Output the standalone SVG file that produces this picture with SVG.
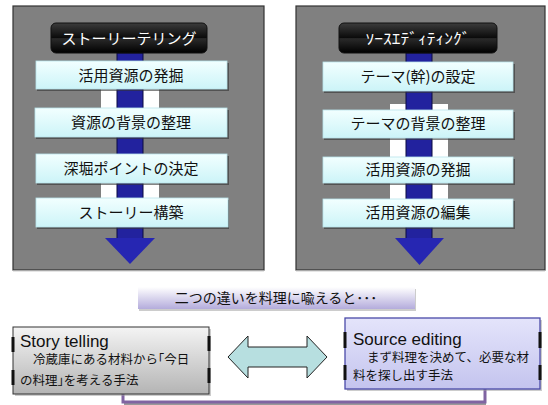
<svg xmlns="http://www.w3.org/2000/svg" width="548" height="405" viewBox="0 0 548 405">
<defs>
<linearGradient id="gTitle" x1="0" y1="0" x2="0" y2="1">
<stop offset="0" stop-color="#3c3c3c"/><stop offset="0.5" stop-color="#0a0a0a"/><stop offset="0.52" stop-color="#2a2a2a"/><stop offset="1" stop-color="#000"/>
</linearGradient>
<linearGradient id="gStep" x1="0" y1="0" x2="0" y2="1">
<stop offset="0" stop-color="#f2ffff"/><stop offset="1" stop-color="#ccf4f8"/>
</linearGradient>
<linearGradient id="gBanner" x1="0" y1="0" x2="0" y2="1">
<stop offset="0" stop-color="#ffffff"/><stop offset="1" stop-color="#b4acdc"/>
</linearGradient>
<linearGradient id="gGray" x1="0" y1="0" x2="0" y2="1">
<stop offset="0" stop-color="#f4f4f4"/><stop offset="1" stop-color="#b4b4b4"/>
</linearGradient>
<linearGradient id="gLav" x1="0" y1="0" x2="0" y2="1">
<stop offset="0" stop-color="#e4e4fb"/><stop offset="1" stop-color="#c4c4ee"/>
</linearGradient>
<style>
.panel{fill:#808080;stroke:#333;stroke-width:1.2}
.title{fill:url(#gTitle);stroke:#111;stroke-width:1}
.ttxt{font-family:"Noto Sans CJK JP",sans-serif;font-size:15px;fill:#fff;text-anchor:middle}
.step{fill:url(#gStep);stroke:#b8e4ea;stroke-width:0.8}
.shadow{fill:#333;opacity:0.6}
.stxt{font-family:"Noto Sans CJK JP",sans-serif;font-size:15px;fill:#111;text-anchor:middle}
.shaft{fill:#22229e;stroke:#0a0a40;stroke-width:1}
.head{fill:#2626b2}
.white{fill:#fff}
.btxt{font-family:"Noto Sans CJK JP",sans-serif;font-size:14px;fill:#111;text-anchor:middle}
.en{font-family:"Liberation Sans",Arial,sans-serif;font-size:17px;fill:#111}
.jp{font-family:"Noto Sans CJK JP",sans-serif;font-size:12.5px;fill:#111}
.tab{fill:#111}
</style>
</defs>
<rect width="548" height="405" fill="#fff"/>

<g id="panel-left">
<rect class="panel" x="13" y="6" width="251" height="264"/>
<rect class="white" x="101" y="89" width="58" height="19"/>
<rect class="white" x="101" y="183" width="58" height="15"/>
<rect class="shaft" x="117" y="53" width="26" height="186"/>
<polygon class="head" points="105,238 155,238 130,264"/>
<rect class="title" x="51" y="23" width="156" height="30" rx="5"/>
<text class="ttxt" x="129" y="44">ストーリーテリング</text>
</g>

<g id="step-l1"><rect class="shadow" x="37" y="63" width="192" height="28"/><rect class="step" x="36" y="61" width="191" height="28"/><text class="stxt" x="131" y="81">活用資源の発掘</text></g>
<g id="step-l2"><rect class="shadow" x="36" y="110" width="193" height="29"/><rect class="step" x="35" y="108" width="192" height="29"/><text class="stxt" x="131" y="128">資源の背景の整理</text></g>
<g id="step-l3"><rect class="shadow" x="37" y="156" width="192" height="29"/><rect class="step" x="36" y="154" width="191" height="29"/><text class="stxt" x="131" y="174">深堀ポイントの決定</text></g>
<g id="step-l4"><rect class="shadow" x="37" y="200" width="192" height="29"/><rect class="step" x="36" y="198" width="192" height="29"/><text class="stxt" x="131" y="218">ストーリー構築</text></g>

<g id="panel-right">
<rect class="panel" x="296" y="6" width="249" height="264"/>
<rect class="white" x="390" y="104" width="58" height="6"/>
<rect class="white" x="390" y="138" width="58" height="19"/>
<rect class="white" x="390" y="183" width="58" height="16"/>
<rect class="shaft" x="406" y="53" width="26" height="186"/>
<polygon class="head" points="395,238 444,238 419.5,265"/>
<rect class="title" x="339" y="23" width="158" height="30" rx="5"/>
<text class="ttxt" x="418" y="44" font-size="16" textLength="105" lengthAdjust="spacingAndGlyphs">ｿｰｽｴﾃﾞｨﾃｨﾝｸﾞ</text>
</g>

<g id="step-r1"><rect class="shadow" x="324" y="64" width="191" height="29"/><rect class="step" x="323" y="62" width="190" height="29"/><text class="stxt" x="418" y="82">テーマ(幹)の設定</text></g>
<g id="step-r2"><rect class="shadow" x="324" y="112" width="191" height="28"/><rect class="step" x="323" y="110" width="190" height="28"/><text class="stxt" x="418" y="129">テーマの背景の整理</text></g>
<g id="step-r3"><rect class="shadow" x="324" y="159" width="191" height="26"/><rect class="step" x="323" y="157" width="190" height="26"/><text class="stxt" x="418" y="175">活用資源の発掘</text></g>
<g id="step-r4"><rect class="shadow" x="324" y="201" width="191" height="28"/><rect class="step" x="323" y="199" width="190" height="28"/><text class="stxt" x="418" y="218">活用資源の編集</text></g>

<line x1="13" y1="271" x2="264" y2="271" stroke="#ccc" stroke-width="1"/>
<line x1="296" y1="271" x2="545" y2="271" stroke="#ccc" stroke-width="1"/>

<g id="banner">
<rect x="139" y="289" width="277" height="22" fill="#999" opacity="0.5"/>
<rect x="138" y="287" width="277" height="22" fill="url(#gBanner)"/>
<text class="btxt" x="276" y="303">二つの違いを料理に喩えると･･･</text>
</g>

<g id="connectors">
<polyline points="124,404 486,404" fill="none" stroke="#999" stroke-width="2"/>
<polyline points="123,394 123,402 485,402 485,389" fill="none" stroke="#8064a2" stroke-width="3"/>
<polygon points="228,357 248,336 248,347 307,347 307,336 327,357 307,378 307,367 248,367 248,378" fill="#b7dfe0" stroke="#222" stroke-width="1"/>
</g>

<g id="story-telling">
<rect x="15" y="329" width="196" height="67" fill="#999" opacity="0.5"/>
<rect x="13" y="327" width="196" height="67" fill="url(#gGray)" stroke="#333" stroke-width="1"/>
<rect class="tab" x="11.5" y="337" width="3" height="15"/>
<rect class="tab" x="11.5" y="370" width="3" height="15"/>
<rect class="tab" x="207.5" y="336" width="3" height="15"/>
<rect class="tab" x="207.5" y="368" width="3" height="15"/>
<text class="en" x="20" y="347">Story telling</text>
<text class="jp" x="33" y="364">冷蔵庫にある材料から｢今日</text>
<text class="jp" x="20" y="385">の料理｣を考える手法</text>
</g>

<g id="source-editing">
<rect x="347" y="320" width="195" height="71" fill="#999" opacity="0.5"/>
<rect x="345" y="318" width="195" height="71" fill="url(#gLav)" stroke="#4a4aa8" stroke-width="1.3"/>
<rect class="tab" x="343.5" y="332" width="3" height="16"/>
<rect class="tab" x="343.5" y="365" width="3" height="15"/>
<rect class="tab" x="538.5" y="332" width="3" height="16"/>
<rect class="tab" x="538.5" y="365" width="3" height="15"/>
<text class="en" x="353" y="345">Source editing</text>
<text class="jp" x="367" y="362">まず料理を決めて、必要な材</text>
<text class="jp" x="353" y="380">料を探し出す手法</text>
</g>
</svg>
